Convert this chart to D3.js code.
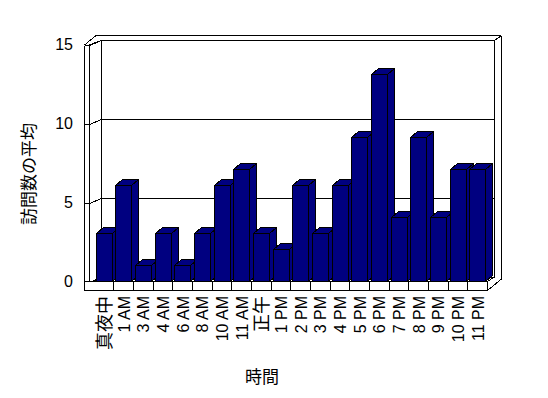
<!DOCTYPE html>
<html>
<head>
<meta charset="utf-8">
<script src="https://cdn.jsdelivr.net/npm/d3@7"></script>
<style>
  body { margin: 0; background: #fff; }
  svg { display: block; }
  text { font-family: Arial, "Liberation Sans", "Noto Sans CJK JP", sans-serif; fill: #000; }
</style>
</head>
<body>
<script>
// data
const hours = ['真夜中', '1 AM', '3 AM', '4 AM', '6 AM', '8 AM', '10 AM', '11 AM', '正午', '1 PM',
  '2 PM', '3 PM', '4 PM', '5 PM', '6 PM', '7 PM', '8 PM', '9 PM', '10 PM', '11 PM']
const visits = [3, 6, 1, 3, 1, 3, 6, 7, 3, 2, 6, 3, 6, 9, 13, 4, 9, 4, 7, 7]
const yTicks = [0, 5, 10, 15]
const yTitle = '訪問数の平均'
const xTitle = '時間'

const W = 548, H = 398
const svg = d3.select('body').append('svg').attr('width', W).attr('height', H)

// frame geometry (front plane / back wall)
const left = 84, wall = 89, backLeft = 101, backRight = 494, outerRight = 501
const floorTop = 281, floorBottom = 290, frontRight = 487

const x = d3.scaleBand().domain(hours).range([93.7, frontRight])
const yFront = d3.scaleLinear().domain([0, 15]).range([282, 45])
const yBack = d3.scaleLinear().domain([0, 15]).range([277, 40])
const yBar = d3.scaleLinear().domain([0, 15]).range([floorTop, floorTop - 15 * 15.95])

const frame = svg.append('g').attr('shape-rendering', 'crispEdges')
const line = (x1, y1, x2, y2, g = frame) => g.append('line')
  .attr('x1', x1).attr('y1', y1).attr('x2', x2).attr('y2', y2)
  .attr('stroke', '#000').attr('stroke-width', 1)

// back wall gridlines
yTicks.forEach(v => line(backLeft, yBack(v) + 0.5, backRight, yBack(v) + 0.5))

// outer frame
line(left + 0.5, 45, 96, 35.5)
line(96, 35.5, outerRight, 35.5)
line(wall + 0.5, 45, backLeft, 40.5)
line(backRight + 0.5, 40.5, outerRight + 0.5, 35.5)
line(backRight + 0.5, 40.5, backRight + 0.5, 277)
line(outerRight + 0.5, 35.5, outerRight + 0.5, 279)
line(backLeft + 0.5, 40.5, backLeft + 0.5, 277)

// left wall front face
line(left + 0.5, 45.5, wall + 0.5, 45.5)
line(left + 0.5, 45.5, left + 0.5, floorBottom + 0.5)
line(wall + 0.5, 45.5, wall + 0.5, floorTop + 0.5)

// y ticks on the wall
yTicks.forEach(v => {
  const yf = Math.round(yFront(v)) + 0.5
  line(left + 0.5, yf, wall + 0.5, yf)
  line(wall + 0.5, yf, backLeft + 0.5, Math.round(yBack(v)) + 0.5)
})

svg.append('g').selectAll('text').data(yTicks).join('text')
  .attr('x', 73).attr('y', d => yFront(d) - 1)
  .attr('text-anchor', 'end').attr('dominant-baseline', 'central')
  .attr('fill', '#000').attr('font-size', 16).text(d => d)

// bars
const dx = 7, dy = -6
const bw = x.bandwidth() - 3.7
const bars = svg.append('g').attr('shape-rendering', 'crispEdges')
  .attr('stroke', '#000').attr('stroke-width', 1).attr('fill', '#000080')
hours.forEach((h, i) => {
  const x0 = Math.round(x(h) + 2) + 0.5
  const x1 = x0 + Math.round(bw)
  const t = Math.round(yBar(visits[i])) + 0.5
  const b = floorTop + 0.5
  const g = bars.append('g')
  g.append('polygon').attr('points', [[x1, t], [x1 + dx, t + dy], [x1 + dx, b + dy], [x1, b]].join(' '))
  g.append('polygon').attr('points', [[x0, t], [x0 + dx, t + dy], [x1 + dx, t + dy], [x1, t]].join(' '))
  g.append('rect').attr('x', x0).attr('y', t).attr('width', x1 - x0).attr('height', b - t)
})

// floor front face
frame.append('rect').attr('x', left + 0.5).attr('y', floorTop + 0.5)
  .attr('width', frontRight - left).attr('height', floorBottom - floorTop)
  .attr('fill', '#fff').attr('stroke', '#000').raise()
const floor = svg.append('g').attr('shape-rendering', 'crispEdges')
hours.slice(1).forEach(h => line(Math.round(x(h)) + 0.5, floorTop + 0.5, Math.round(x(h)) + 0.5, floorBottom + 0.5, floor))
line(frontRight + 0.5, floorBottom + 0.5, outerRight + 0.5, 279, floor)
line(frontRight + 0.5, floorTop + 0.5, backRight + 0.5, 277, floor)

// x labels
const isCJK = s => /[^\x00-\x7F]/.test(s)
svg.append('g').selectAll('text').data(hours).join('text')
  .attr('transform', d => `translate(${x(d) + x.bandwidth() / 2 + 1},296) rotate(-90)`)
  .attr('text-anchor', 'end').attr('dominant-baseline', 'central')
  .attr('fill', '#000').attr('font-size', d => isCJK(d) ? 18 : 16).text(d => d)

// axis titles
svg.append('text').attr('x', 262).attr('y', 377)
  .attr('text-anchor', 'middle').attr('dominant-baseline', 'central')
  .attr('fill', '#000').attr('font-size', 17).text(xTitle)
svg.append('text').attr('transform', 'translate(29,174) rotate(-90)')
  .attr('text-anchor', 'middle').attr('dominant-baseline', 'central')
  .attr('fill', '#000').attr('font-size', 17).text(yTitle)
</script>
</body>
</html>
